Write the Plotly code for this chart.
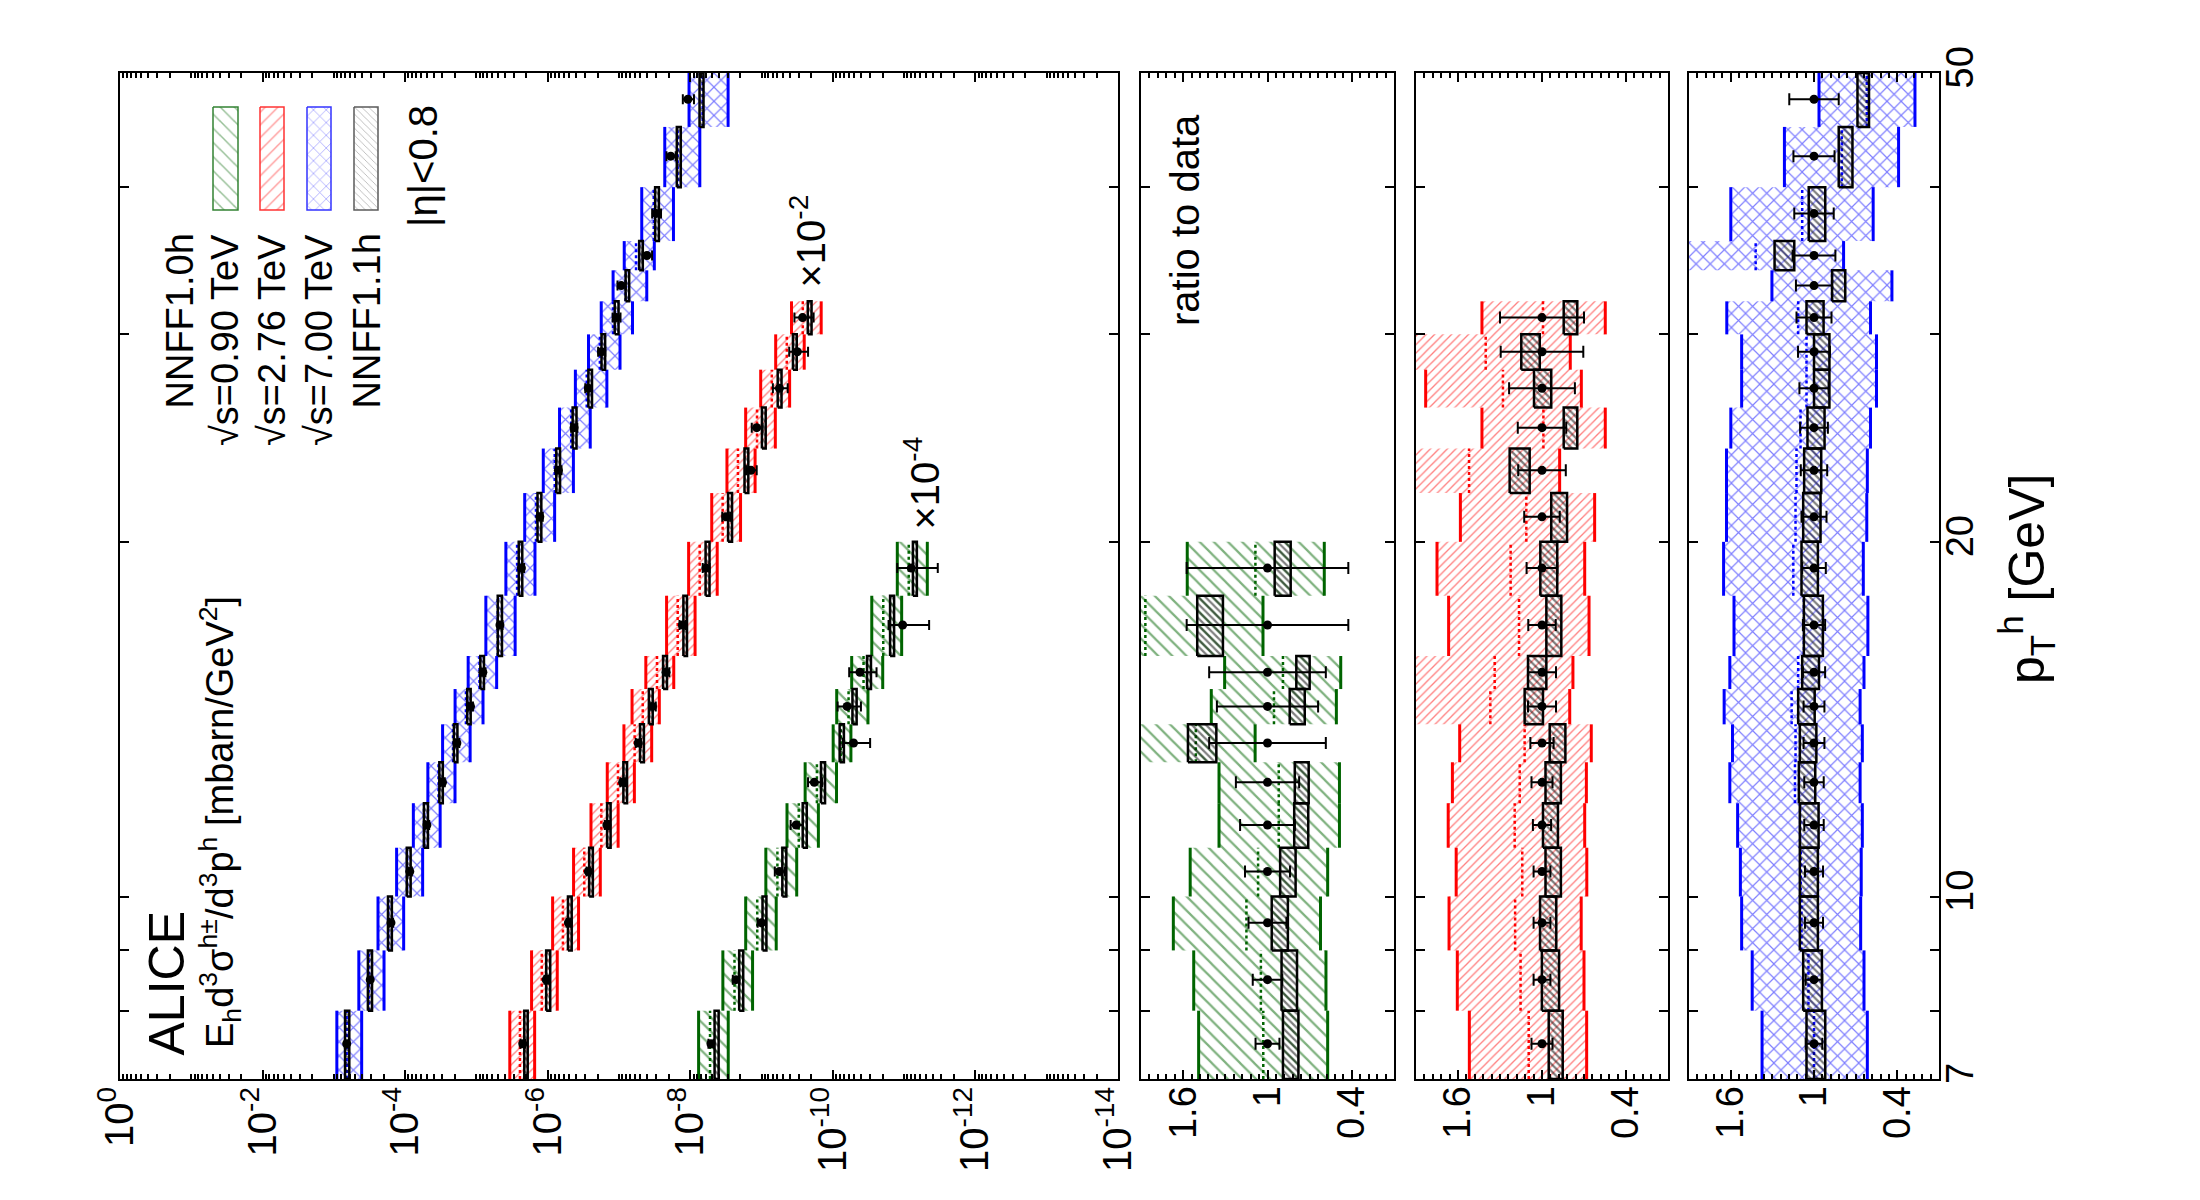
import numpy as np
import plotly.graph_objects as go

FONT = "Liberation Sans, Arial, sans-serif"
W, H = 2200, 1200

# pT bin edges [GeV]
pt_edges = [7, 8, 9, 10, 11, 12, 13, 14, 15, 16, 18, 20, 22, 24, 26, 28, 30, 32, 34, 36, 40, 45, 50]

# ALICE data, E d3sigma/d3p [mbarn/GeV^2] (0.90 TeV shown x1e-4, 2.76 TeV shown x1e-2)
xs_090 = [5.13e-5, 2.29e-5, 1.0e-5, 5.62e-6, 3.27e-6, 1.82e-6, 5.13e-7, 6.31e-7, 4.17e-7, 1.05e-7, 7.94e-8]
xs_276 = [2.24e-4, 1.05e-4, 5.13e-5, 2.69e-5, 1.48e-5, 8.91e-6, 5.37e-6, 3.39e-6, 2.19e-6,
          1.29e-6, 6.03e-7, 3.16e-7, 1.41e-7, 1.17e-7, 5.62e-8, 3.16e-8, 2.66e-8]
xs_700 = [6.61e-4, 3.09e-4, 1.58e-4, 8.61e-5, 4.95e-5, 2.99e-5, 1.88e-5, 1.21e-5, 8.13e-6, 4.68e-6, 2.34e-6,
          1.29e-6, 7.08e-7, 4.27e-7, 2.69e-7, 1.76e-7, 1.09e-7, 9.29e-8, 4.06e-8, 3.0e-8, 1.88e-8, 1.08e-8]
scale_090, scale_276, scale_700 = 1e-4, 1e-2, 1.0

# relative data uncertainty
err_090 = [0.085, 0.105, 0.135, 0.16, 0.195, 0.225, 0.415, 0.36, 0.415, 0.575, 0.575]
err_276 = [0.075, 0.06, 0.06, 0.06, 0.065, 0.075, 0.083, 0.10, 0.10, 0.098, 0.11, 0.127, 0.17, 0.173, 0.235, 0.295, 0.30]
err_700 = [0.06, 0.06, 0.065, 0.065, 0.07, 0.07, 0.075, 0.075, 0.08, 0.08, 0.085, 0.09, 0.095, 0.10, 0.105,
           0.115, 0.126, 0.13, 0.154, 0.142, 0.148, 0.178]

# NNFF1.0h ratio to data: upper, lower, central
nn10_up_090 = [1.49, 1.525, 1.67, 1.55, 1.345, 1.345, 1.93, 1.40, 1.305, 2.71, 1.571]
nn10_dn_090 = [0.572, 0.584, 0.623, 0.572, 0.488, 0.488, 1.088, 0.51, 0.479, 1.032, 0.596]
nn10_c_090 = [1.03, 1.047, 1.15, 1.067, 0.92, 0.92, 1.51, 0.954, 0.89, 1.869, 1.086]

nn10_up_276 = [1.519, 1.605, 1.664, 1.613, 1.67, 1.64, 1.588, 1.936, 1.92, 1.667, 1.75, 1.583, 2.17, 1.429, 1.831, 2.006, 1.429]
nn10_dn_276 = [0.681, 0.70, 0.72, 0.68, 0.695, 0.683, 0.648, 0.802, 0.779, 0.664, 0.695, 0.624, 0.874, 0.548, 0.719, 0.798, 0.548]
nn10_c_276 = [1.095, 1.153, 1.192, 1.141, 1.195, 1.159, 1.124, 1.369, 1.338, 1.164, 1.224, 1.112, 1.521, 0.99, 1.279, 1.402, 0.993]

nn10_up_700 = [1.374, 1.445, 1.521, 1.53, 1.55, 1.606, 1.587, 1.647, 1.606, 1.576, 1.651, 1.63, 1.63, 1.599,
               1.521, 1.521, 1.628, 1.303, 2.08, 1.599, 1.213, 0.964]
nn10_dn_700 = [0.616, 0.64, 0.664, 0.66, 0.652, 0.668, 0.652, 0.668, 0.64, 0.612, 0.645, 0.62, 0.616, 0.593,
               0.55, 0.55, 0.593, 0.439, 0.787, 0.574, 0.391, 0.273]
nn10_c_700 = [1.0, 1.04, 1.09, 1.095, 1.10, 1.137, 1.133, 1.161, 1.114, 1.073, 1.149, 1.133, 1.126, 1.097,
              1.054, 1.054, 1.114, 0.87, 1.42, 1.085, 0.80, 0.62]

# NNFF1.1h ratio to data: upper, lower
nn11_up_090 = [0.89, 0.90, 0.97, 0.91, 0.81, 0.806, 1.566, 0.842, 0.795, 1.50, 0.949]
nn11_dn_090 = [0.78, 0.79, 0.855, 0.80, 0.71, 0.707, 1.364, 0.735, 0.70, 1.317, 0.835]
nn11_up_276 = [0.952, 1.001, 1.014, 0.975, 0.993, 0.975, 0.945, 1.124, 1.10, 0.969, 1.012, 0.934, 1.231, 0.845, 1.057, 1.148, 0.845]
nn11_dn_276 = [0.852, 0.878, 0.898, 0.865, 0.886, 0.865, 0.833, 0.993, 0.969, 0.862, 0.891, 0.821, 1.088, 0.748, 0.934, 1.016, 0.748]
nn11_up_700 = [1.054, 1.078, 1.102, 1.102, 1.102, 1.109, 1.102, 1.114, 1.085, 1.073, 1.09, 1.078, 1.071, 1.047,
               1.0, 1.0, 1.054, 0.87, 1.284, 1.038, 0.822, 0.687]
nn11_dn_700 = [0.919, 0.943, 0.972, 0.972, 0.967, 0.991, 0.983, 0.995, 0.964, 0.936, 0.972, 0.953, 0.948, 0.924,
               0.889, 0.889, 0.931, 0.775, 1.142, 0.919, 0.723, 0.604]

GREEN, RED, BLUE = "#006400", "#ff0000", "#0000ff"

series = [
    dict(xs=xs_090, scale=scale_090, err=err_090, up=nn10_up_090, dn=nn10_dn_090, c=nn10_c_090,
         u11=nn11_up_090, d11=nn11_dn_090, color=GREEN, shape="\\", size=10, ax=("x2", "y2")),
    dict(xs=xs_276, scale=scale_276, err=err_276, up=nn10_up_276, dn=nn10_dn_276, c=nn10_c_276,
         u11=nn11_up_276, d11=nn11_dn_276, color=RED, shape="/", size=6, ax=("x3", "y3")),
    dict(xs=xs_700, scale=scale_700, err=err_700, up=nn10_up_700, dn=nn10_dn_700, c=nn10_c_700,
         u11=nn11_up_700, d11=nn11_dn_700, color=BLUE, shape="x", size=10, ax=("x4", "y4")),
]


def rect_path(x_a, x_b, y_a, y_b):
    xs, ys = [], []
    for a, b, c, d in zip(x_a, x_b, y_a, y_b):
        xs += [a, b, b, a, a, None]
        ys += [c, c, d, d, c, None]
    return xs, ys


def seg_path(xv, y_a, y_b):
    xs, ys = [], []
    for a, c, d in zip(xv, y_a, y_b):
        xs += [a, a, None]
        ys += [c, d, None]
    return xs, ys


def add_set(fig, xa, ya, s, up, dn, cen, u11, d11, val, err_abs, p_lo, p_hi, p_mid, msize, capw):
    col = s["color"]
    bx, by = rect_path(up, dn, p_lo, p_hi)
    fig.add_trace(go.Scatter(x=bx, y=by, xaxis=xa, yaxis=ya, mode="lines", fill="toself",
                             fillcolor="rgba(0,0,0,0)", line=dict(width=0, color=col),
                             fillpattern=dict(shape=s["shape"], fgcolor=col, bgcolor="rgba(0,0,0,0)",
                                              size=s["size"], solidity=0.22),
                             hoverinfo="skip"))
    ex, ey = seg_path(list(up) + list(dn), list(p_lo) * 2, list(p_hi) * 2)
    fig.add_trace(go.Scatter(x=ex, y=ey, xaxis=xa, yaxis=ya, mode="lines",
                             line=dict(color=col, width=3), hoverinfo="skip"))
    cx, cy = seg_path(cen, p_lo, p_hi)
    fig.add_trace(go.Scatter(x=cx, y=cy, xaxis=xa, yaxis=ya, mode="lines",
                             line=dict(color=col, width=2.5, dash="dot"), hoverinfo="skip"))
    kx, ky = rect_path(u11, d11, p_lo, p_hi)
    fig.add_trace(go.Scatter(x=kx, y=ky, xaxis=xa, yaxis=ya, mode="lines", fill="toself",
                             fillcolor="rgba(0,0,0,0)", line=dict(width=2.5, color="black"),
                             fillpattern=dict(shape="\\", fgcolor="black", bgcolor="rgba(0,0,0,0)",
                                              size=5, solidity=0.45),
                             hoverinfo="skip"))
    fig.add_trace(go.Scatter(x=val, y=p_mid, xaxis=xa, yaxis=ya, mode="markers",
                             marker=dict(color="black", size=msize, symbol="circle"),
                             error_x=dict(type="data", array=err_abs, symmetric=True, color="black",
                                          thickness=2, width=capw),
                             hoverinfo="skip"))


fig = go.Figure()

for s in series:
    n = len(s["xs"])
    p_lo = np.array(pt_edges[:n], dtype=float)
    p_hi = np.array(pt_edges[1:n + 1], dtype=float)
    p_mid = (p_lo + p_hi) / 2
    d = np.array(s["xs"]) * s["scale"]
    up, dn, c = np.array(s["up"]), np.array(s["dn"]), np.array(s["c"])
    u11, d11, e = np.array(s["u11"]), np.array(s["d11"]), np.array(s["err"])
    # main panel
    add_set(fig, "x", "y", s, d * up, d * dn, d * c, d * u11, d * d11, d, d * e,
            p_lo, p_hi, p_mid, 9, 5)
    # ratio panel
    add_set(fig, s["ax"][0], s["ax"][1], s, up, dn, c, u11, d11, np.ones(n), e,
            p_lo, p_hi, p_mid, 9, 6)

# legend keys (drawn on a pixel overlay)
key_x = [(205, 230), (252, 276), (299, 323), (346, 370)]
key_style = [(GREEN, "\\", 10), (RED, "/", 9), (BLUE, "x", 9), ("#333333", "\\", 5)]
for (xa_, xb_), (col, shp, sz) in zip(key_x, key_style):
    fig.add_trace(go.Scatter(x=[xa_, xb_, xb_, xa_, xa_], y=[99, 99, 202, 202, 99], xaxis="x5", yaxis="y5",
                             mode="lines", fill="toself", fillcolor="rgba(0,0,0,0)",
                             line=dict(color=col, width=1.5),
                             fillpattern=dict(shape=shp, fgcolor=col, bgcolor="rgba(0,0,0,0)",
                                              size=sz, solidity=0.15),
                             opacity=0.8, hoverinfo="skip"))

base = dict(showline=True, linecolor="black", linewidth=2, mirror="ticks", ticks="inside",
            ticklen=9, tickwidth=1.5, tickcolor="black", showgrid=False, zeroline=False,
            tickfont=dict(family=FONT, size=38, color="black"))

ydom = [1 - 1071 / H, 1 - 65 / H]
xdoms = [(112, 1110), (1133, 1386), (1408, 1660), (1681, 1931)]

even_dec = list(range(0, 15, 2))
main_ticktext = ["10<sup>%s</sup>" % ("-%d" % k if k else "0") for k in even_dec]

axes = {}
axes["xaxis"] = dict(base, domain=[xdoms[0][0] / W, xdoms[0][1] / W], anchor="y", type="log",
                     range=[0, -14], tickmode="array", tickvals=[10.0 ** -k for k in even_dec],
                     ticktext=main_ticktext, tickangle=-90, ticklabelstandoff=-10,
                     tickfont=dict(family=FONT, size=40, color="black"),
                     minor=dict(ticks="inside", ticklen=5, tickcolor="black", dtick="D1", showgrid=False))
pt_ticks = [7, 10, 20, 50]
pt_text = ["7", "10", "20", "50"]
for i in range(4):
    yk = "yaxis" if i == 0 else "yaxis%d" % (i + 1)
    xk = "xaxis" if i == 0 else "xaxis%d" % (i + 1)
    xn = "x" if i == 0 else "x%d" % (i + 1)
    yn = "y" if i == 0 else "y%d" % (i + 1)
    axes[yk] = dict(base, domain=ydom, anchor=xn, type="log",
                    range=[np.log10(7), np.log10(50)], tickmode="array", tickvals=pt_ticks,
                    ticktext=pt_text, showticklabels=(i == 3), side="right" if i == 3 else "left",
                    tickangle=-90, ticklabelstandoff=-14,
                    minor=dict(ticks="inside", ticklen=9, tickcolor="black", dtick="D1", showgrid=False))
    if i > 0:
        axes[xk] = dict(base, domain=[xdoms[i][0] / W, xdoms[i][1] / W], anchor=yn,
                        range=[1.9, 0.1], tickmode="array", tickvals=[1.6, 1.0, 0.4],
                        ticktext=["1.6", "1", "0.4"], tickangle=-90, ticklabelstandoff=-10,
                        minor=dict(ticks="inside", ticklen=5, tickcolor="black", tick0=0.1,
                                   dtick=0.06, showgrid=False))
axes["xaxis5"] = dict(domain=[0, 1], anchor="y5", range=[0, W], visible=False, fixedrange=True)
axes["yaxis5"] = dict(domain=[0, 1], anchor="x5", range=[H, 0], visible=False, fixedrange=True)

fig.update_layout(width=W, height=H, margin=dict(l=0, r=0, t=0, b=0, autoexpand=False),
                  paper_bgcolor="white", plot_bgcolor="rgba(0,0,0,0)", showlegend=False,
                  font=dict(family=FONT, color="black"), **axes)


def note(text, x, y, size, xanchor="center", yanchor="middle"):
    fig.add_annotation(text=text, x=x, y=y, xref="x5", yref="y5", showarrow=False, textangle=-90,
                       xanchor=xanchor, yanchor=yanchor, font=dict(family=FONT, size=size, color="black"))


note("ALICE", 158, 1050, 50, yanchor="bottom")
note("E<sub>h</sub>d<sup>3</sup>σ<sup>h±</sup>/d<sup>3</sup>p<sup>h</sup> [mbarn/GeV<sup>2</sup>]",
     212, 1042, 38, yanchor="bottom")
legend_text = ["NNFF1.0h", "√s=0.90 TeV", "√s=2.76 TeV", "√s=7.00 TeV", "NNFF1.1h"]
legend_x = [171, 217, 264, 311, 358]
for t, lx in zip(legend_text, legend_x):
    note(t, lx, 224, 38, yanchor="top")
note("|η|<0.8", 415, 95, 40, yanchor="top")
note("ratio to data", 1177, 104, 40, yanchor="top")
note("×10<sup>-2</sup>", 800, 282, 40, yanchor="bottom")
note("×10<sup>-4</sup>", 914, 524, 40, yanchor="bottom")
note("p<sub>T</sub><sup>h</sup> [GeV]", 2018, 571, 50)

fig.write_html("out.html")
